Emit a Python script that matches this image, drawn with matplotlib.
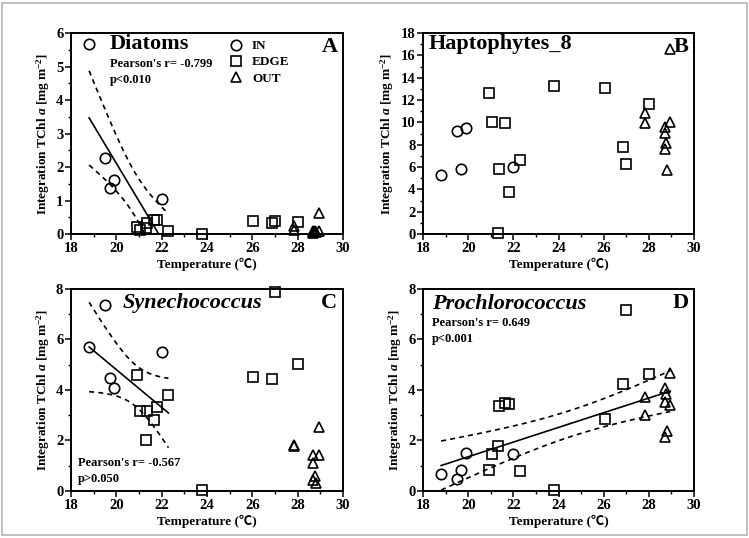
import numpy as np
import matplotlib
matplotlib.use("Agg")
import matplotlib.pyplot as plt
from matplotlib.lines import Line2D
from matplotlib.patches import Rectangle
from matplotlib.ticker import MultipleLocator

plt.rcParams['font.family'] = ['Liberation Serif', 'Noto Sans CJK SC']
plt.rcParams['font.weight'] = 'bold'
plt.rcParams['mathtext.fontset'] = 'custom'
plt.rcParams['mathtext.rm'] = 'Liberation Serif:bold'
plt.rcParams['mathtext.it'] = 'Liberation Serif:bold:italic'

# temperatures of the stations (IN / EDGE / OUT)
t_in = [18.8, 19.5, 19.7, 19.9, 22.0]
t_edge = [20.9, 21.05, 21.3, 21.35, 21.65, 21.8, 22.3, 23.8, 26.05, 26.85, 27.0, 28.0]
t_out = [27.85, 27.85, 28.7, 28.7, 28.75, 28.7, 28.8, 28.95, 28.95]

# integrated TChl a per group
diat_in = [5.67, 2.27, 1.37, 1.62, 1.06]
diat_edge = [0.20, 0.13, 0.19, 0.33, 0.41, 0.43, 0.10, 0.0, 0.40, 0.32, 0.38, 0.35]
diat_out = [0.25, 0.12, 0.06, 0.08, 0.10, 0.04, 0.07, 0.62, 0.10]

hapto_in = [5.30, 9.23, 5.80, 9.46, 6.04]
hapto_edge = [12.6, 10.05, 0.09, 5.83, 9.97, 3.72, 6.64, 13.24, 13.1, 7.83, 6.28, 11.64]
hapto_out = [10.8, 9.91, 9.55, 9.02, 8.13, 7.59, 5.74, 16.6, 10.0]

syn_in = [5.70, 7.35, 4.48, 4.08, 5.50]
syn_edge = [4.61, 3.16, 2.03, 3.16, 2.83, 3.33, 3.79, 0.04, 4.50, 4.45, 7.87, 5.03]
syn_out = [1.83, 1.77, 1.44, 1.11, 0.58, 0.45, 0.32, 2.52, 1.41]

pro_in = [0.69, 0.49, 0.84, 1.50, 1.47]
pro_edge = [0.84, 1.48, 1.80, 3.35, 3.49, 3.46, 0.78, 0.03, 2.85, 4.22, 7.18, 4.63]
pro_out = [3.71, 3.02, 4.08, 3.51, 3.85, 2.13, 2.39, 4.66, 3.42]

# t de Student (95 %) selon les ddl
T95 = {10: 2.228, 24: 2.064}


#Regression lineaire + bande de confiance 95% de la moyenne
def regression(ax, x, y):
    x = np.asarray(x, float)
    y = np.asarray(y, float)
    n = len(x)
    b, a = np.polyfit(x, y, 1)
    res = y - (a + b * x)
    s = np.sqrt(np.sum(res ** 2) / (n - 2))
    sxx = np.sum((x - x.mean()) ** 2)
    xs = np.linspace(x.min(), x.max(), 100)
    fit = a + b * xs
    se = s * np.sqrt(1.0 / n + (xs - x.mean()) ** 2 / sxx)
    t = T95.get(n - 2, 2.0)
    ax.plot(xs, fit, color='black', lw=1.2)
    ax.plot(xs, fit + t * se, color='black', lw=1.2, ls=(0, (3, 2.5)))
    ax.plot(xs, fit - t * se, color='black', lw=1.2, ls=(0, (3, 2.5)))
    print("r =", np.corrcoef(x, y)[0, 1])


def panneau(ax, yin, yedge, yout, ymax, ystep):
    kw = dict(ls='none', mfc='none', mec='black', mew=1.2, ms=7.5, clip_on=False, zorder=3)
    ax.plot(t_in, yin, marker='o', **kw)
    ax.plot(t_edge, yedge, marker='s', **kw)
    ax.plot(t_out, yout, marker='^', **kw)
    ax.set_xlim(18, 30)
    ax.set_ylim(0, ymax)
    ax.xaxis.set_major_locator(MultipleLocator(2))
    ax.xaxis.set_minor_locator(MultipleLocator(1))
    ax.yaxis.set_major_locator(MultipleLocator(ystep))
    ax.yaxis.set_minor_locator(MultipleLocator(ystep / 2))
    ax.tick_params(which='major', direction='out', length=4, width=1.1, labelsize=10.5, pad=1.5)
    ax.tick_params(which='minor', direction='out', length=2.5, width=1.0)
    for lab in ax.get_xticklabels() + ax.get_yticklabels():
        lab.set_fontweight('bold')
    for sp in ax.spines.values():
        sp.set_linewidth(1.4)
    ax.set_xlabel("Temperature (\u2103)", fontsize=9.5, fontweight='bold', labelpad=2)
    ax.set_ylabel("Integration TChl $\\mathit{a}$ [mg m$^{-2}$]", fontsize=9.5,
                  fontweight='bold', labelpad=3)


fig = plt.figure(figsize=(7.49, 5.38), dpi=100)
axA = fig.add_axes([0.0948, 0.565, 0.363, 0.3736])
axB = fig.add_axes([0.5648, 0.565, 0.3618, 0.3736])
axC = fig.add_axes([0.0948, 0.0874, 0.363, 0.3755])
axD = fig.add_axes([0.5648, 0.0874, 0.3618, 0.3755])

panneau(axA, diat_in, diat_edge, diat_out, 6, 1)
panneau(axB, hapto_in, hapto_edge, hapto_out, 18, 2)
panneau(axC, syn_in, syn_edge, syn_out, 8, 2)
panneau(axD, pro_in, pro_edge, pro_out, 8, 2)

# regressions : A et C sur les stations < 22.5 degres, D sur toutes
coupe = 22.5
sel_x = [t for t in t_in + t_edge if t < coupe]
regression(axA, sel_x, [v for t, v in zip(t_in + t_edge, diat_in + diat_edge) if t < coupe])
regression(axC, sel_x, [v for t, v in zip(t_in + t_edge, syn_in + syn_edge) if t < coupe])
regression(axD, t_in + t_edge + t_out, pro_in + pro_edge + pro_out)

# titres des panneaux
axA.text(0.143, 0.945, "Diatoms", transform=axA.transAxes, fontsize=16, fontweight='bold', va='center')
axA.text(0.143, 0.846, "Pearson's r= -0.799", transform=axA.transAxes, fontsize=9, fontweight='bold', va='center')
axA.text(0.143, 0.766, "p<0.010", transform=axA.transAxes, fontsize=9, fontweight='bold', va='center')
axA.text(0.98, 0.93, "A", transform=axA.transAxes, fontsize=16, fontweight='bold', va='center', ha='right')

axB.text(0.02, 0.945, "Haptophytes_8", transform=axB.transAxes, fontsize=16, fontweight='bold', va='center')
axB.text(0.978, 0.93, "B", transform=axB.transAxes, fontsize=16, fontweight='bold', va='center', ha='right')

axC.text(0.19, 0.93, "Synechococcus", transform=axC.transAxes, fontsize=16, fontweight='bold',
         style='italic', va='center')
axC.text(0.027, 0.14, "Pearson's r= -0.567", transform=axC.transAxes, fontsize=9, fontweight='bold', va='center')
axC.text(0.027, 0.06, "p>0.050", transform=axC.transAxes, fontsize=9, fontweight='bold', va='center')
axC.text(0.98, 0.93, "C", transform=axC.transAxes, fontsize=16, fontweight='bold', va='center', ha='right')

axD.text(0.033, 0.925, "Prochlorococcus", transform=axD.transAxes, fontsize=16, fontweight='bold',
         style='italic', va='center')
axD.text(0.033, 0.83, "Pearson's r= 0.649", transform=axD.transAxes, fontsize=9, fontweight='bold', va='center')
axD.text(0.033, 0.75, "p<0.001", transform=axD.transAxes, fontsize=9, fontweight='bold', va='center')
axD.text(0.98, 0.93, "D", transform=axD.transAxes, fontsize=16, fontweight='bold', va='center', ha='right')

# legende du panneau A
poignees = [Line2D([], [], ls='none', marker=m, mfc='none', mec='black', mew=1.2, ms=7.5)
            for m in ['o', 's', '^']]
leg = axA.legend(poignees, ["IN", "EDGE", "OUT"], loc='upper left', bbox_to_anchor=(0.535, 1.025),
                 frameon=False, handlelength=1.2, handletextpad=0.6, labelspacing=0.3,
                 prop={'weight': 'bold', 'size': 9.5})

# cadre gris autour de l'image
fig.patches.append(Rectangle((0.003, 0.005), 0.994, 0.99, transform=fig.transFigure,
                             fill=False, edgecolor='#b4b4b4', lw=1.2))

fig.savefig("out.png", dpi=100)
